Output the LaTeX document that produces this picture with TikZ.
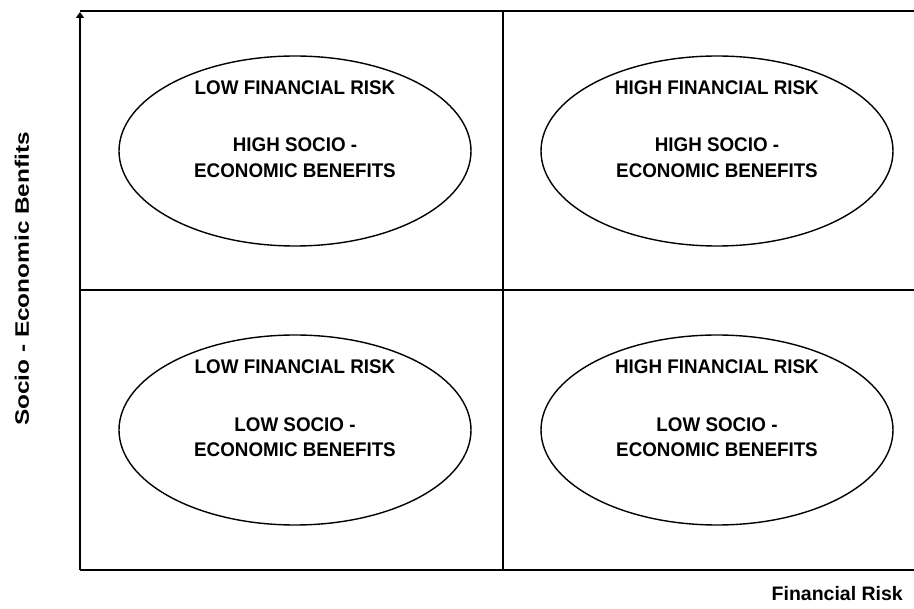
\documentclass[tikz,border=0pt]{standalone}
\usepackage{fontspec}
\setmainfont{Liberation Sans}
\usetikzlibrary{shapes.geometric,arrows.meta}
\begin{document}
\begin{tikzpicture}[x=1pt,y=-1pt,
  frameline/.style={line width=1.8pt,black},
  blob/.style={ellipse,draw,line width=1.4pt,minimum width=352pt,minimum height=190pt,inner sep=0pt},
  lbl/.style={font=\bfseries\fontsize{18.8}{22}\selectfont,inner sep=0pt,yscale=1.05},
  axlbl/.style={font=\bfseries\fontsize{19.5}{22}\selectfont,inner sep=0pt}]
\useasboundingbox (0,0) rectangle (914,609);
% frame coordinates
\coordinate (o) at (80,570);
\coordinate (ytop) at (80,12);
\coordinate (tl) at (80,11);
\coordinate (tr) at (914,11);
\coordinate (br) at (914,570);
\coordinate (ml) at (80,290);
\coordinate (mr) at (914,290);
\coordinate (mt) at (503,11);
\coordinate (mb) at (503,570);
\draw[frameline] (tl) -- (tr);
\draw[frameline] (o) -- (br);
\draw[frameline] (ml) -- (mr);
\draw[frameline] (mt) -- (mb);
\draw[frameline,-{Triangle[length=6pt,width=8pt]}] (o) -- (ytop);
% ellipses
\node[blob] (e1) at (295,151) {};
\node[blob] (e2) at (717,151) {};
\node[blob] (e3) at (295,430) {};
\node[blob] (e4) at (717,430) {};
% texts
\node[lbl] (t1a) at (295,88) {LOW FINANCIAL RISK};
\node[lbl] (t1b) at (295,145) {HIGH SOCIO -};
\node[lbl] (t1c) at (295,171) {ECONOMIC BENEFITS};
\node[lbl] (t2a) at (717,88) {HIGH FINANCIAL RISK};
\node[lbl] (t2b) at (717,145) {HIGH SOCIO -};
\node[lbl] (t2c) at (717,171) {ECONOMIC BENEFITS};
\node[lbl] (t3a) at (295,367) {LOW FINANCIAL RISK};
\node[lbl] (t3b) at (295,425) {LOW SOCIO -};
\node[lbl] (t3c) at (295,450) {ECONOMIC BENEFITS};
\node[lbl] (t4a) at (717,367) {HIGH FINANCIAL RISK};
\node[lbl] (t4b) at (717,425) {LOW SOCIO -};
\node[lbl] (t4c) at (717,450) {ECONOMIC BENEFITS};
% axis labels
\node[axlbl,anchor=east] (xl) at (903,594) {Financial Risk};
\node[axlbl,rotate=90,xscale=1.25] (yl) at (22,279) {Socio - Economic Benfits};
\end{tikzpicture}
\end{document}
